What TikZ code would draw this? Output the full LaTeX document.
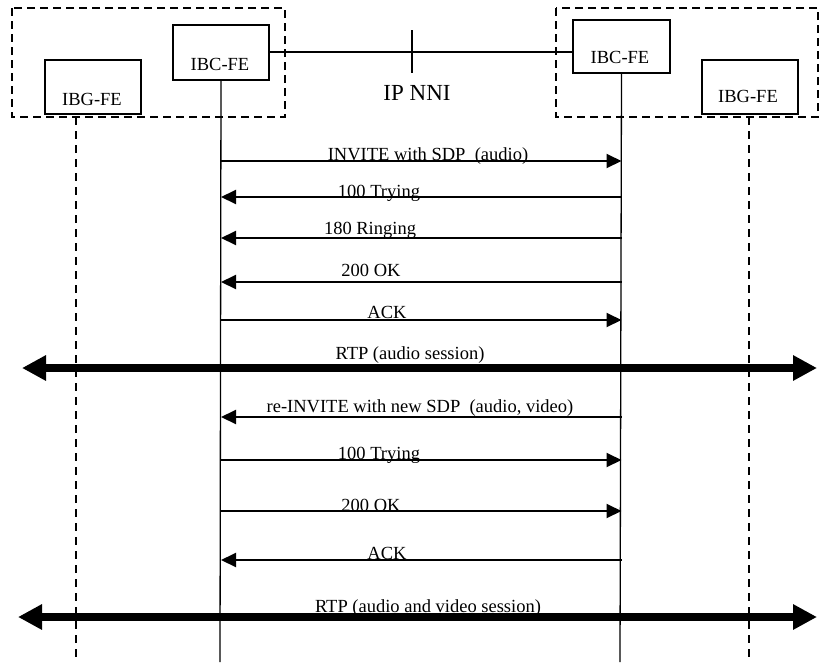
\documentclass[tikz,border=0pt]{standalone}
\usepackage{fontspec}
\setmainfont{Liberation Serif}
\usetikzlibrary{arrows.meta}
\begin{document}
\begin{tikzpicture}[x=1pt,y=-1pt,
  every node/.style={font=\fontsize{18.5}{22}\selectfont},
  entity/.style={draw,line width=2pt,inner sep=0pt,anchor=north west},
  opdomain/.style={draw,line width=1.6pt,dash pattern=on 8pt off 5pt},
  lifeline/.style={line width=1.3pt},
  lifedash/.style={line width=1.3pt,dash pattern=on 8pt off 6pt},
  msg/.style={line width=2pt,-{Triangle[length=15pt,width=14pt]}},
  media/.style={line width=8pt,{Triangle[length=24pt,width=24pt]}-{Triangle[length=24pt,width=24pt]}},
  msglabel/.style={anchor=base,inner sep=0pt}
]
\useasboundingbox (0,0) rectangle (820,662);

% operator domains
\draw[opdomain] (12,8) rectangle (285,117);
\draw[opdomain] (556,8) rectangle (818,117);

% functional entities
\node[entity,minimum width=96pt,minimum height=55pt] (ibcL) at (172,24) {};
\node[entity,minimum width=96pt,minimum height=54pt] (ibgL) at (44,59) {};
\node[entity,minimum width=97pt,minimum height=53pt] (ibcR) at (572,19) {};
\node[entity,minimum width=96pt,minimum height=54pt] (ibgR) at (701,59) {};
\node[msglabel] (tibcL) at (220,70) {IBC-FE};
\node[msglabel] (tibgL) at (92,105) {IBG-FE};
\node[msglabel] (tibcR) at (620,63) {IBC-FE};
\node[msglabel] (tibgR) at (748,102) {IBG-FE};

% interconnection between the two IBC-FEs
\draw[line width=1.4pt] (ibcL.east |- 0,52) -- (ibcR.west |- 0,52);
\coordinate (nniTop) at (412,30);
\coordinate (nniBot) at (412,73);
\draw[line width=1.4pt] (nniTop) -- (nniBot);
\node[msglabel,font=\fontsize{23}{27}\selectfont] (nni) at (417,100) {IP NNI};

% lifelines
\coordinate (endL) at (220,662);
\coordinate (endR) at (620,662);
\draw[lifeline] (ibcL.south) -- (endL);
\draw[lifeline] (ibcR.south) -- (endR);
\coordinate (gL) at (76,117);
\coordinate (gR) at (749,117);
\coordinate (gLend) at (76,662);
\coordinate (gRend) at (749,662);
\draw[lifedash] (gL) -- (gLend);
\draw[lifedash] (gR) -- (gRend);

% initial session set-up
\draw[msg] (ibcL |- 0,161) -- (ibcR |- 0,161);
\node[msglabel] (l1) at (428,160) {INVITE with SDP~ (audio)};
\draw[msg] (ibcR |- 0,197) -- (ibcL |- 0,197);
\node[msglabel] (l2) at (379,197) {100 Trying};
\draw[msg] (ibcR |- 0,238) -- (ibcL |- 0,238);
\node[msglabel] (l3) at (370,234) {180 Ringing};
\draw[msg] (ibcR |- 0,282) -- (ibcL |- 0,282);
\node[msglabel] (l4) at (371,276) {200 OK};
\draw[msg] (ibcL |- 0,320) -- (ibcR |- 0,320);
\node[msglabel] (l5) at (387,318) {ACK};

% audio media
\coordinate (rtpA1) at (22,368);
\coordinate (rtpA2) at (817,368);
\draw[media] (rtpA1) -- (rtpA2);
\node[msglabel] (l6) at (410,359) {RTP (audio session)};

% session modification
\draw[msg] (ibcR |- 0,417) -- (ibcL |- 0,417);
\node[msglabel] (l7) at (420,412) {re-INVITE with new SDP~ (audio, video)};
\draw[msg] (ibcL |- 0,460) -- (ibcR |- 0,460);
\node[msglabel] (l8) at (379,459) {100 Trying};
\draw[msg] (ibcL |- 0,511) -- (ibcR |- 0,511);
\node[msglabel] (l9) at (371,511) {200 OK};
\draw[msg] (ibcR |- 0,560) -- (ibcL |- 0,560);
\node[msglabel] (l10) at (387,559) {ACK};

% audio and video media
\coordinate (rtpB1) at (18,617);
\coordinate (rtpB2) at (817,617);
\draw[media] (rtpB1) -- (rtpB2);
\node[msglabel] (l11) at (428,612) {RTP (audio and video session)};
\end{tikzpicture}
\end{document}
